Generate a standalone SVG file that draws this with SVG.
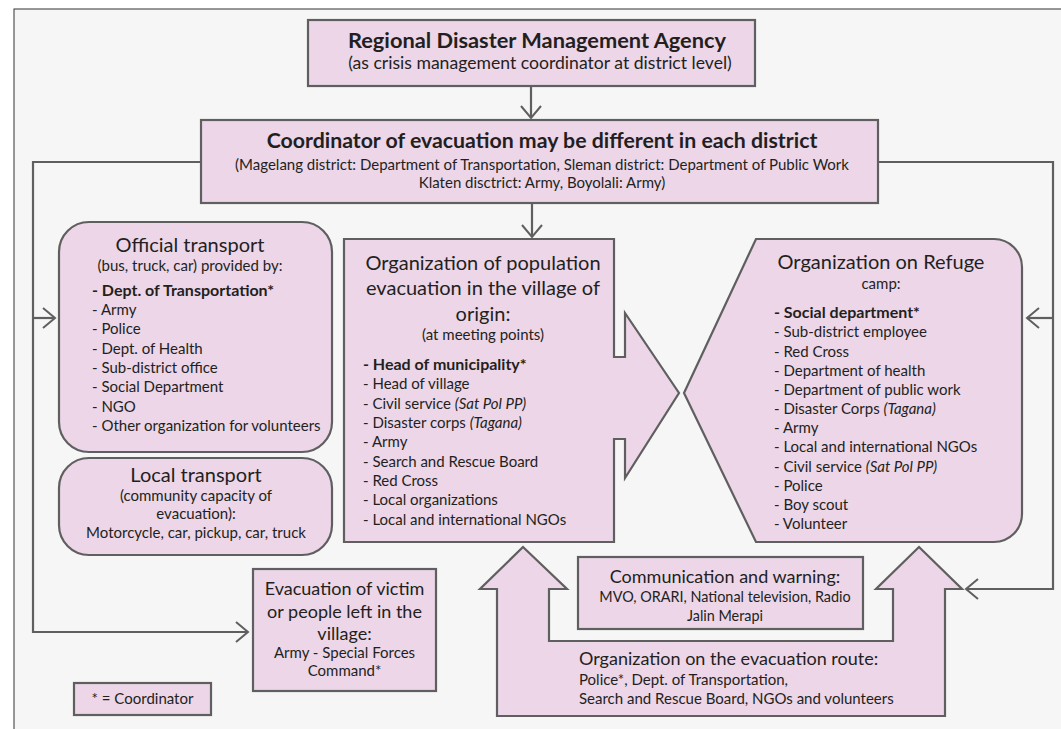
<svg xmlns="http://www.w3.org/2000/svg" width="1061" height="729" viewBox="0 0 1061 729">
<defs>
<marker id="chev" viewBox="-14 -12 16 24" refX="0" refY="0" markerWidth="16" markerHeight="24" markerUnits="userSpaceOnUse" orient="auto">
<path d="M-12,-10 L0,0 L-12,10" fill="none" stroke="#5f5f5f" stroke-width="2"/>
</marker>
</defs>
<style>
.box{fill:#ecd6e8;stroke:#5f5f5f;stroke-width:2.2}
.con{fill:none;stroke:#5f5f5f;stroke-width:2.2}
text{font-family:Lato,"Liberation Sans",sans-serif;fill:#231f20}
.c{text-anchor:middle}
.b{font-weight:bold}
.i{font-style:italic}
.t21{font-size:21.3px}
.t20{font-size:20px}
.t18{font-size:18px}
.t17{font-size:17.6px}
.t16{font-size:16px}
.t15{font-size:15px}
.t14{font-size:14.4px}
</style>
<rect x="0" y="0" width="1061" height="729" fill="#ffffff"/>
<rect x="14" y="9" width="1060" height="730" fill="#f6f6f6" stroke="#333333" stroke-width="1"/>

<g id="connectors">
<line class="con" x1="531" y1="86" x2="531" y2="118" marker-end="url(#chev)"/>
<line class="con" x1="532" y1="203" x2="532" y2="237" marker-end="url(#chev)"/>
<polyline class="con" points="201,162 33,162 33,632 248,632" marker-end="url(#chev)"/>
<line class="con" x1="33" y1="318" x2="55" y2="318" marker-end="url(#chev)"/>
<polyline class="con" points="878,162 1053,162 1053,589 966,589" marker-end="url(#chev)"/>
<line class="con" x1="1053" y1="318" x2="1027" y2="318" marker-end="url(#chev)"/>
</g>

<g id="regional-agency">
<rect class="box" x="308" y="20" width="447" height="66"/>
<text class="c b" style="font-size:21.8px" x="537" y="48">Regional Disaster Management Agency</text>
<text class="c t17" x="540" y="69">(as crisis management coordinator at district level)</text>
</g>

<g id="evacuation-coordinator">
<rect class="box" x="201" y="120" width="677" height="83"/>
<text class="c b t21" x="542" y="148">Coordinator of evacuation may be different in each district</text>
<text class="c t15" x="542" y="170">(Magelang district: Department of Transportation, Sleman district: Department of Public Work</text>
<text class="c t15" x="542" y="188">Klaten disctrict: Army, Boyolali: Army)</text>
</g>

<g id="official-transport">
<rect class="box" x="59" y="222" width="273" height="230" rx="30" ry="30"/>
<text class="c t20" x="190" y="252">Official transport</text>
<text class="c t15" x="190" y="271">(bus, truck, car) provided by:</text>
<text class="t16 b" x="92" y="296">- Dept. of Transportation*</text>
<text class="t15" x="92" y="315">- Army</text>
<text class="t15" x="92" y="334">- Police</text>
<text class="t15" x="92" y="354">- Dept. of Health</text>
<text class="t15" x="92" y="373">- Sub-district office</text>
<text class="t15" x="92" y="392">- Social Department</text>
<text class="t15" x="92" y="412">- NGO</text>
<text class="t15" x="92" y="431">- Other organization for volunteers</text>
</g>

<g id="local-transport">
<rect class="box" x="59" y="458" width="273" height="97" rx="30" ry="30"/>
<text class="c t20" x="196" y="482">Local transport</text>
<text class="c t15" x="196" y="501">(community capacity of</text>
<text class="c t15" x="196" y="519">evacuation):</text>
<text class="c t15" x="196" y="538">Motorcycle, car, pickup, car, truck</text>
</g>

<g id="village-origin">
<path class="box" d="M344,239 H614 V357 H625 V313 L679,393 L625,478 V439 H614 V542 H344 Z"/>
<text class="c t20" x="483" y="270">Organization of population</text>
<text class="c t20" x="483" y="295">evacuation in the village of</text>
<text class="c t20" x="483" y="321">origin:</text>
<text class="c t15" x="483" y="340">(at meeting points)</text>
<text class="t16 b" x="363" y="370">- Head of municipality*</text>
<text class="t15" x="363" y="389">- Head of village</text>
<text class="t15" x="363" y="409">- Civil service <tspan class="i">(Sat Pol PP)</tspan></text>
<text class="t15" x="363" y="428">- Disaster corps <tspan class="i">(Tagana)</tspan></text>
<text class="t15" x="363" y="447">- Army</text>
<text class="t15" x="363" y="467">- Search and Rescue Board</text>
<text class="t15" x="363" y="486">- Red Cross</text>
<text class="t15" x="363" y="505">- Local organizations</text>
<text class="t15" x="363" y="525">- Local and international NGOs</text>
</g>

<g id="refuge-camp">
<path class="box" d="M756,239 H994 A28,28 0 0 1 1022,267 V514 A28,28 0 0 1 994,542 H756 L684,393 Z"/>
<text class="c t20" x="881" y="269">Organization on Refuge</text>
<text class="c t15" x="881" y="289">camp:</text>
<text class="t16 b" x="774" y="318">- Social department*</text>
<text class="t15" x="774" y="337">- Sub-district employee</text>
<text class="t15" x="774" y="357">- Red Cross</text>
<text class="t15" x="774" y="376">- Department of health</text>
<text class="t15" x="774" y="395">- Department of public work</text>
<text class="t15" x="774" y="414">- Disaster Corps <tspan class="i">(Tagana)</tspan></text>
<text class="t15" x="774" y="433">- Army</text>
<text class="t15" x="774" y="452">- Local and international NGOs</text>
<text class="t15" x="774" y="472">- Civil service <tspan class="i">(Sat Pol PP)</tspan></text>
<text class="t15" x="774" y="491">- Police</text>
<text class="t15" x="774" y="510">- Boy scout</text>
<text class="t15" x="774" y="529">- Volunteer</text>
</g>

<g id="evacuation-route">
<path class="box" d="M523,547 L567,589 H549 V641 H893 V589 H876 L919,547 L962,589 H945 V716 H497 V589 H480 Z"/>
<text class="t18" x="579" y="665">Organization on the evacuation route:</text>
<text class="t15" x="579" y="685">Police*, Dept. of Transportation,</text>
<text class="t15" x="579" y="704">Search and Rescue Board, NGOs and volunteers</text>
</g>

<g id="communication">
<rect class="box" x="578" y="557" width="285" height="72"/>
<text class="c t18" x="725" y="583">Communication and warning:</text>
<text class="c t14" x="725" y="602">MVO, ORARI, National television, Radio</text>
<text class="c t14" x="725" y="621">Jalin Merapi</text>
</g>

<g id="evacuation-victim">
<rect class="box" x="253" y="569" width="183" height="122"/>
<text class="c t18" x="344.5" y="595">Evacuation of victim</text>
<text class="c t18" x="344.5" y="618">or people left in the</text>
<text class="c t18" x="344.5" y="640">village:</text>
<text class="c t15" x="344.5" y="658">Army - Special Forces</text>
<text class="c t15" x="344.5" y="676">Command*</text>
</g>

<g id="legend">
<rect class="box" x="74" y="683" width="137" height="32"/>
<text class="c t15" x="142.5" y="704">* = Coordinator</text>
</g>
</svg>
